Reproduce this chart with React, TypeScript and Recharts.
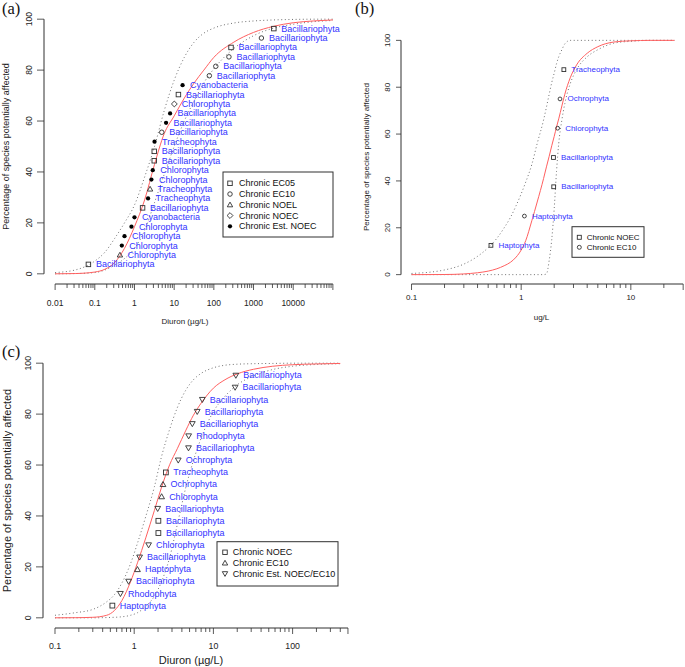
import React from 'react'
import { ComposedChart, Line, Scatter, XAxis, YAxis, ReferenceLine } from 'recharts'

const SANS = '"Liberation Sans", Arial, Helvetica, sans-serif'
const SERIF = '"Liberation Serif", "Times New Roman", serif'
const BLUE = '#3333ff'
const INK = '#303030'
const RED = '#ff6060'
const DOTTED = '#707070'

type Kind = 'square' | 'circle' | 'up' | 'down' | 'diamond' | 'dot'

// ---------- (a) Diuron, all chronic data ----------
const aTaxa = [
  'Bacillariophyta', 'Chlorophyta', 'Chlorophyta', 'Chlorophyta', 'Chlorophyta', 'Cyanobacteria',
  'Bacillariophyta', 'Tracheophyta', 'Tracheophyta', 'Chlorophyta', 'Chlorophyta', 'Bacillariophyta',
  'Bacillariophyta', 'Tracheophyta', 'Bacillariophyta', 'Bacillariophyta', 'Bacillariophyta', 'Chlorophyta',
  'Bacillariophyta', 'Cyanobacteria', 'Bacillariophyta', 'Bacillariophyta', 'Bacillariophyta', 'Bacillariophyta',
  'Bacillariophyta', 'Bacillariophyta',
]
const aConc = [0.069, 0.43, 0.48, 0.56, 0.84, 1.0, 1.6, 2.2, 2.47, 2.67, 2.89, 3.15, 3.15, 3.2, 4.87, 6.25, 7.9, 10.1, 12.8, 16.3, 77, 112, 240, 271, 1580, 3250]
const aPct = [3.7, 7.4, 11.1, 14.8, 18.5, 22.2, 25.9, 29.6, 33.3, 37.0, 40.7, 44.4, 48.1, 51.9, 55.6, 59.3, 63.0, 66.7, 70.4, 74.1, 77.8, 81.5, 85.2, 88.9, 92.6, 96.3]
const aEndpoint = [
  'EC05', 'NOEL', 'EstNOEC', 'EstNOEC', 'EstNOEC', 'EstNOEC', 'EC05', 'EstNOEC', 'NOEL', 'EstNOEC',
  'EstNOEC', 'EC05', 'EC05', 'EstNOEC', 'EC10', 'EstNOEC', 'EstNOEC', 'NOEC', 'EC05', 'EstNOEC',
  'EC10', 'EC10', 'EC10', 'EC05', 'EC10', 'EC05',
]
const aCurveConc = [0.01, 0.032, 0.1, 0.18, 0.32, 0.56, 1, 1.8, 3.2, 5.6, 10, 18, 32, 56, 100, 320, 1000, 3200, 10000, 32000, 100000]
const aFit = [0, 0.1, 0.7, 1.8, 4.5, 10, 18.5, 29, 43, 55, 62, 69, 75, 80, 85, 91, 94.8, 97.2, 98.6, 99.3, 99.7]
const aBandHi = [0.5, 1.5, 5, 8.5, 14, 20, 27, 38, 50, 64, 76, 85, 91, 94.5, 96.5, 98.5, 99.3, 99.7, 99.9, 100, 100]
const aBandLo = [0, 0.1, 0.5, 1.5, 3.5, 6, 10, 17, 28, 39, 50, 60, 68, 75, 80.5, 88.5, 93.5, 96.5, 98, 99, 99.5]

// ---------- (b) ----------
const bTaxa = ['Haptophyta', 'Haptophyta', 'Bacillariophyta', 'Bacillariophyta', 'Chlorophyta', 'Ochrophyta', 'Tracheophyta']
const bConc = [0.53, 1.07, 1.98, 1.97, 2.15, 2.26, 2.45]
const bPct = [12.5, 25, 37.5, 50, 62.5, 75, 87.5]
const bEndpoint = ['NOEC', 'EC10', 'NOEC', 'NOEC', 'EC10', 'EC10', 'NOEC']
const bCurveConc = [0.1, 0.2, 0.3, 0.4, 0.5, 0.6, 0.7, 0.8, 0.9, 1.0, 1.1, 1.25, 1.4, 1.6, 1.7, 1.8, 1.9, 2.0, 2.1, 2.2, 2.35, 2.5, 2.8, 3.2, 4, 5, 7, 10, 15, 25]
const bFit = [0, 0.05, 0.3, 0.8, 1.5, 2.5, 3.8, 5.3, 7.5, 10.5, 14.5, 23, 31, 41, 46, 50.5, 55, 59, 63, 66.5, 72, 77, 84, 89.5, 94.5, 97.3, 99.3, 99.8, 100, 100]
const bBandHi = [0.5, 2.0, 4.5, 7.8, 11.5, 15.5, 20, 24.5, 29.5, 34.5, 39.5, 47, 56, 66, 71.5, 77, 82, 86, 90, 93, 96, 98.5, 100, 100, 100, 100, 100, 100, 100, 100]
const bBandLo = [0, 0, 0, 0, 0, 0, 0, 0, 0, 0, 0, 0, 0, 0, 0.3, 6, 15, 28, 44, 56, 66, 73, 81.5, 87.5, 93, 96, 98.8, 99.6, 100, 100]

// ---------- (c) Diuron ----------
const cTaxa = [
  'Haptophyta', 'Rhodophyta', 'Bacillariophyta', 'Haptophyta', 'Bacillariophyta', 'Chlorophyta',
  'Bacillariophyta', 'Bacillariophyta', 'Bacillariophyta', 'Chlorophyta', 'Ochrophyta', 'Tracheophyta',
  'Ochrophyta', 'Bacillariophyta', 'Rhodophyta', 'Bacillariophyta', 'Bacillariophyta', 'Bacillariophyta',
  'Bacillariophyta', 'Bacillariophyta',
]
const cConc = [0.53, 0.67, 0.85, 1.1, 1.17, 1.52, 2.02, 2.02, 1.98, 2.22, 2.31, 2.51, 3.6, 4.85, 4.87, 5.42, 6.25, 7.25, 18.8, 19.2]
const cPct = [4.8, 9.5, 14.3, 19.0, 23.8, 28.6, 33.3, 38.1, 42.9, 47.6, 52.4, 57.1, 61.9, 66.7, 71.4, 76.2, 81.0, 85.7, 90.5, 95.2]
const cEndpoint = [
  'NOEC', 'Est', 'Est', 'EC10', 'Est', 'Est', 'NOEC', 'NOEC', 'Est', 'EC10',
  'EC10', 'NOEC', 'Est', 'Est', 'Est', 'Est', 'Est', 'Est', 'Est', 'Est',
]
const cCurveConc = [0.1, 0.18, 0.3, 0.45, 0.56, 0.7, 0.9, 1.1, 1.4, 1.8, 2.2, 2.8, 3.5, 4.5, 5.6, 7, 10, 14, 20, 32, 56, 100, 200, 400]
const cFit = [0, 0.05, 0.2, 1.0, 2.8, 6.8, 14.2, 21.6, 31.4, 42.2, 51, 60.1, 66.4, 73.7, 79.6, 84.3, 90.2, 93.5, 95.8, 97.6, 98.8, 99.4, 99.7, 99.9]
const cBandHi = [1.0, 2.0, 3.3, 6.3, 9, 13.7, 21.3, 29.3, 39.8, 51.5, 63, 74, 82.5, 89.5, 93.5, 96, 98.2, 99.2, 99.6, 99.8, 99.9, 100, 100, 100]
const cBandLo = [0, 0, 0, 0.1, 0.2, 0.4, 1.0, 2, 4.5, 8.5, 14, 23.6, 36.6, 51.4, 61.8, 70.6, 81, 87, 91.5, 95, 97.5, 98.8, 99.5, 99.8]

const yTicks = [0, 20, 40, 60, 80, 100]
const spread = (decades: number[], mult: number[]) =>
  decades.flatMap((d) => mult.map((m) => +(m * d).toPrecision(6)))

type Pt = { x: number; y: number; name: string }
const toPts = (conc: number[], pct: number[], taxa: string[], ep: string[], want: string): Pt[] =>
  conc.map((c, i) => ({ x: c, y: pct[i], name: taxa[i], ep: ep[i] }))
    .filter((p) => p.ep === want)
    .map(({ x, y, name }) => ({ x, y, name }))
const toLine = (conc: number[], v: number[]) => conc.map((c, i) => ({ x: c, y: v[i] }))

function Glyph({ kind, cx, cy, s }: { kind: Kind; cx: number; cy: number; s: number }) {
  const h = s / 2
  const st = { fill: 'none', stroke: INK, strokeWidth: 0.9 }
  if (kind === 'square') return <rect x={cx - h} y={cy - h} width={s} height={s} {...st} />
  if (kind === 'circle') return <circle cx={cx} cy={cy} r={h} {...st} />
  if (kind === 'dot') return <circle cx={cx} cy={cy} r={h * 0.95} fill="#000" />
  if (kind === 'diamond') {
    const d = h * 1.3
    return <polygon points={`${cx},${cy - d} ${cx + d},${cy} ${cx},${cy + d} ${cx - d},${cy}`} {...st} />
  }
  const t = h * 1.2
  if (kind === 'up')
    return <polygon points={`${cx},${cy - t} ${cx + t},${cy + t * 0.75} ${cx - t},${cy + t * 0.75}`} {...st} />
  return <polygon points={`${cx},${cy + t} ${cx + t},${cy - t * 0.75} ${cx - t},${cy - t * 0.75}`} {...st} />
}

interface PanelProps {
  left: number
  top: number
  width: number
  height: number
  marginTop: number
  yWidth: number
  xHeight: number
  xDomain: [number, number]
  xTicks: number[]
  xLabels: number[]
  tickFont: number
  tickDy: number
  yLabelDx: number
  yTickLen: number
  curveConc: number[]
  fit: number[]
  bandHi: number[]
  bandLo: number[]
  series: { kind: Kind; pts: Pt[] }[]
  glyph: number
  labelFont: number
}

function Panel(p: PanelProps) {
  const xMin = Math.min(...p.xTicks)
  const xMax = Math.max(...p.xTicks)

  const xTick = (t: any) => {
    const v = t.payload.value
    const major = p.xLabels.includes(v) || v === xMax
    return (
      <g>
        <line x1={t.x} x2={t.x} y1={t.y} y2={t.y + (major ? 6 : 4)} stroke={INK} strokeWidth={0.8} />
        {p.xLabels.includes(v) && (
          <text x={t.x} y={t.y + p.tickDy} textAnchor="middle" fontSize={p.tickFont} fontFamily={SANS} fill="#222">
            {String(v)}
          </text>
        )}
      </g>
    )
  }

  const yTick = (t: any) => {
    const lx = t.x - p.yLabelDx
    return (
      <g>
        <line x1={t.x - p.yTickLen} x2={t.x} y1={t.y} y2={t.y} stroke={INK} strokeWidth={0.8} />
        <text
          x={lx}
          y={t.y}
          transform={`rotate(-90 ${lx} ${t.y})`}
          textAnchor="middle"
          dominantBaseline="central"
          fontSize={p.tickFont}
          fontFamily={SANS}
          fill="#222"
        >
          {t.payload.value}
        </text>
      </g>
    )
  }

  const shapeFor = (kind: Kind) => (s: any) => (
    <g>
      <Glyph kind={kind} cx={s.cx} cy={s.cy} s={p.glyph} />
      <text x={s.cx + 7.5} y={s.cy} dominantBaseline="central" fontSize={p.labelFont} fontFamily={SANS} fill={BLUE}>
        {s.payload.name}
      </text>
    </g>
  )

  return (
    <div style={{ position: 'absolute', left: p.left, top: p.top }}>
      <ComposedChart width={p.width} height={p.height} margin={{ top: p.marginTop, right: 0, bottom: 0, left: 0 }}>
        <XAxis
          dataKey="x"
          type="number"
          scale="log"
          domain={p.xDomain}
          allowDataOverflow
          ticks={p.xTicks}
          interval={0}
          tickLine={false}
          axisLine={false}
          tickSize={0}
          tickMargin={0}
          height={p.xHeight}
          tick={xTick}
        />
        <YAxis
          dataKey="y"
          type="number"
          domain={[-4, 104]}
          allowDataOverflow
          ticks={yTicks}
          interval={0}
          tickLine={false}
          axisLine={false}
          tickSize={0}
          tickMargin={0}
          width={p.yWidth}
          tick={yTick}
        />
        <ReferenceLine segment={[{ x: xMin, y: -4 }, { x: xMax, y: -4 }]} stroke={INK} ifOverflow="visible" />
        <ReferenceLine segment={[{ x: p.xDomain[0], y: 0 }, { x: p.xDomain[0], y: 100 }]} stroke={INK} ifOverflow="visible" />
        <Line data={toLine(p.curveConc, p.bandHi)} dataKey="y" type="monotone" dot={false} stroke={DOTTED} strokeWidth={1} strokeDasharray="1 2.6" isAnimationActive={false} />
        <Line data={toLine(p.curveConc, p.bandLo)} dataKey="y" type="monotone" dot={false} stroke={DOTTED} strokeWidth={1} strokeDasharray="1 2.6" isAnimationActive={false} />
        <Line data={toLine(p.curveConc, p.fit)} dataKey="y" type="monotone" dot={false} stroke={RED} strokeWidth={1} isAnimationActive={false} />
        {p.series.map((s) => (
          <Scatter key={s.kind} data={s.pts} shape={shapeFor(s.kind)} isAnimationActive={false} />
        ))}
      </ComposedChart>
    </div>
  )
}

function LegendBox({ x, y, w, h, rows, first, step, gx, tx, font }: {
  x: number; y: number; w: number; h: number
  rows: { kind: Kind; text: string }[]
  first: number; step: number; gx: number; tx: number; font: number
}) {
  return (
    <g>
      <rect x={x} y={y} width={w} height={h} fill="#fff" stroke={INK} strokeWidth={1} />
      {rows.map((r, i) => (
        <g key={r.text}>
          <Glyph kind={r.kind} cx={x + gx} cy={y + first + i * step} s={font * 0.5} />
          <text x={x + tx} y={y + first + i * step} dominantBaseline="central" fontSize={font} fontFamily={SANS} fill="#111">
            {r.text}
          </text>
        </g>
      ))}
    </g>
  )
}

const YTITLE = 'Percentage of species potentially affected'

export default function App() {
  const aTicks = [...spread([0.01, 0.1, 1, 10, 100, 1000, 10000], [1, 2, 3, 4, 5, 6, 7, 8, 9]), 100000]
  const bTicks = [...spread([0.1, 1], [1, 2, 3, 4, 5, 6, 7, 8, 9]), 10, 20, 30]
  const cTicks = [...spread([0.1, 1, 10], [1, 2, 3, 4, 5, 6, 7, 8, 9]), 100, 200, 300, 400, 500]

  const aSeries = [
    { kind: 'square' as Kind, pts: toPts(aConc, aPct, aTaxa, aEndpoint, 'EC05') },
    { kind: 'circle' as Kind, pts: toPts(aConc, aPct, aTaxa, aEndpoint, 'EC10') },
    { kind: 'up' as Kind, pts: toPts(aConc, aPct, aTaxa, aEndpoint, 'NOEL') },
    { kind: 'diamond' as Kind, pts: toPts(aConc, aPct, aTaxa, aEndpoint, 'NOEC') },
    { kind: 'dot' as Kind, pts: toPts(aConc, aPct, aTaxa, aEndpoint, 'EstNOEC') },
  ]
  const bSeries = [
    { kind: 'square' as Kind, pts: toPts(bConc, bPct, bTaxa, bEndpoint, 'NOEC') },
    { kind: 'circle' as Kind, pts: toPts(bConc, bPct, bTaxa, bEndpoint, 'EC10') },
  ]
  const cSeries = [
    { kind: 'square' as Kind, pts: toPts(cConc, cPct, cTaxa, cEndpoint, 'NOEC') },
    { kind: 'up' as Kind, pts: toPts(cConc, cPct, cTaxa, cEndpoint, 'EC10') },
    { kind: 'down' as Kind, pts: toPts(cConc, cPct, cTaxa, cEndpoint, 'Est') },
  ]

  return (
    <div style={{ position: 'absolute', left: 0, top: 0, width: 685, height: 667, background: '#fff', overflow: 'hidden' }}>
      <Panel
        left={0} top={0} width={344} height={330} marginTop={9} yWidth={44} xHeight={46}
        xDomain={[Math.pow(10, -2.28), Math.pow(10, 5.28)]}
        xTicks={aTicks} xLabels={[0.01, 0.1, 1, 10, 100, 1000, 10000]}
        tickFont={8.5} tickDy={21.5} yLabelDx={15} yTickLen={7}
        curveConc={aCurveConc} fit={aFit} bandHi={aBandHi} bandLo={aBandLo}
        series={aSeries} glyph={4.5} labelFont={9}
      />
      <Panel
        left={340} top={0} width={345} height={330} marginTop={31} yWidth={61} xHeight={46}
        xDomain={[Math.pow(10, -1.0959), Math.pow(10, 1.4939)]}
        xTicks={bTicks} xLabels={[0.1, 1, 10]}
        tickFont={8} tickDy={16} yLabelDx={13} yTickLen={5}
        curveConc={bCurveConc} fit={bFit} bandHi={bBandHi} bandLo={bBandLo}
        series={bSeries} glyph={3.8} labelFont={8}
      />
      <Panel
        left={0} top={330} width={360} height={337} marginTop={23} yWidth={43} xHeight={39}
        xDomain={[Math.pow(10, -1.1515), Math.pow(10, 2.851)]}
        xTicks={cTicks} xLabels={[0.1, 1, 10, 100]}
        tickFont={8.8} tickDy={21} yLabelDx={14.5} yTickLen={7}
        curveConc={cCurveConc} fit={cFit} bandHi={cBandHi} bandLo={cBandLo}
        series={cSeries} glyph={4.8} labelFont={9}
      />
      <svg width={685} height={667} style={{ position: 'absolute', left: 0, top: 0, pointerEvents: 'none' }}>
        <text x={2} y={14} fontSize={16.5} fontFamily={SERIF} fill="#111">(a)</text>
        <text x={355} y={14} fontSize={16.5} fontFamily={SERIF} fill="#111">(b)</text>
        <text x={2} y={357} fontSize={16.5} fontFamily={SERIF} fill="#111">(c)</text>

        <text x={5.5} y={146.5} transform="rotate(-90 5.5 146.5)" textAnchor="middle" dominantBaseline="central" fontSize={9} fontFamily={SANS} fill="#222">{YTITLE}</text>
        <text x={366.7} y={157} transform="rotate(-90 366.7 157)" textAnchor="middle" dominantBaseline="central" fontSize={8} fontFamily={SANS} fill="#222">{YTITLE}</text>
        <text x={6.7} y={490.5} transform="rotate(-90 6.7 490.5)" textAnchor="middle" dominantBaseline="central" fontSize={11} fontFamily={SANS} fill="#222">{YTITLE}</text>

        <text x={185} y={324} textAnchor="middle" fontSize={8} fontFamily={SANS} fill="#222">Diuron (µg/L)</text>
        <text x={541.5} y={319.5} textAnchor="middle" fontSize={8} fontFamily={SANS} fill="#222">ug/L</text>
        <text x={191} y={664} textAnchor="middle" fontSize={11} fontFamily={SANS} fill="#222">Diuron (µg/L)</text>

        <LegendBox
          x={223} y={172} w={110} h={65} first={11.3} step={10.75} gx={7} tx={16} font={9}
          rows={[
            { kind: 'square', text: 'Chronic EC05' },
            { kind: 'circle', text: 'Chronic EC10' },
            { kind: 'up', text: 'Chronic NOEL' },
            { kind: 'diamond', text: 'Chronic NOEC' },
            { kind: 'dot', text: 'Chronic Est. NOEC' },
          ]}
        />
        <LegendBox
          x={572} y={226.7} w={72} h={30.6} first={10.6} step={10} gx={7.3} tx={14.7} font={8}
          rows={[
            { kind: 'square', text: 'Chronic NOEC' },
            { kind: 'circle', text: 'Chronic EC10' },
          ]}
        />
        <LegendBox
          x={217} y={541.7} w={121} h={44.3} first={10.6} step={10.7} gx={8} tx={15.7} font={9}
          rows={[
            { kind: 'square', text: 'Chronic NOEC' },
            { kind: 'up', text: 'Chronic EC10' },
            { kind: 'down', text: 'Chronic Est. NOEC/EC10' },
          ]}
        />
      </svg>
    </div>
  )
}
